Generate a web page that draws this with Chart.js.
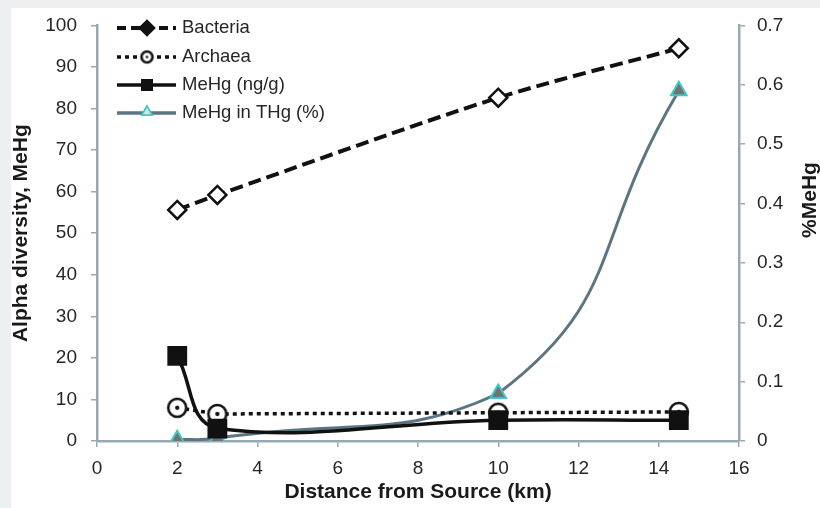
<!DOCTYPE html>
<html>
<head>
<meta charset="utf-8">
<script src="https://cdn.jsdelivr.net/npm/chart.js@4.4.1/dist/chart.umd.min.js"></script>
<style>
  html, body { margin: 0; padding: 0; background: #eeeff1; }
  #wrap { width: 820px; height: 508px; }
</style>
</head>
<body>
<div id="wrap"><canvas id="chart" width="820" height="508"></canvas></div>
<script>
// distances (km) where the samples were taken
const distances = [2, 3, 10, 14.5];
const bacteria = [55.6, 59.2, 82.6, 94.5];
const archaea = [8, 6.5, 6.8, 7];
const mehg = [20.5, 3, 5, 5];
const mehgInThg = [0.002, 0.005, 0.08, 0.59];

const seriesNames = ["Bacteria", "Archaea", "MeHg (ng/g)", "MeHg in THg (%)"];

const axisColor = "#97a9b3";
const textColor = "#262626";
const thgLine = "#5b7582";
const thgFill = "#727272";
const thgEdge = "#3cc8c8";

function toPoints(ys) {
    return distances.map((d, i) => ({ x: d, y: ys[i] }));
}

// open circle with a dot in the middle (Archaea marker)
function dotCircle(r) {
    const c = document.createElement("canvas");
    const s = Math.ceil(r * 2 + 6);
    c.width = s; c.height = s;
    const g = c.getContext("2d");
    g.beginPath();
    g.arc(s / 2, s / 2, r, 0, Math.PI * 2);
    g.fillStyle = "#ffffff";
    g.fill();
    g.lineWidth = 2.6;
    g.strokeStyle = "#111111";
    g.stroke();
    g.beginPath();
    g.arc(s / 2, s / 2, r * 0.24, 0, Math.PI * 2);
    g.fillStyle = "#111111";
    g.fill();
    return c;
}
const archaeaMarker = dotCircle(9);
const archaeaLegendMarker = dotCircle(5.5);

const frame = {
    id: "frame",
    beforeDraw(chart) {
        const ctx = chart.ctx;
        ctx.save();
        ctx.fillStyle = "#eeeff1";
        ctx.fillRect(0, 0, chart.width, chart.height);
        ctx.fillStyle = "#ffffff";
        ctx.fillRect(11, 8, chart.width - 11, chart.height - 8);
        ctx.restore();
    }
};

// legend with line samples, drawn inside the plot area
const sampleLegend = {
    id: "sampleLegend",
    afterDraw(chart) {
        const ctx = chart.ctx;
        const x0 = 117, x1 = 176, xm = 147, tx = 182;
        const rows = [28, 57, 85, 113];
        ctx.save();
        ctx.font = "18.5px 'Liberation Sans', Arial, sans-serif";
        ctx.textBaseline = "middle";
        rows.forEach((y, i) => {
            ctx.beginPath();
            ctx.setLineDash([]);
            if (i === 0) { ctx.setLineDash([9, 5]); ctx.lineWidth = 4; ctx.strokeStyle = "#111"; }
            if (i === 1) { ctx.setLineDash([4, 4]); ctx.lineWidth = 3.5; ctx.strokeStyle = "#111"; }
            if (i === 2) { ctx.lineWidth = 3.5; ctx.strokeStyle = "#111"; }
            if (i === 3) { ctx.lineWidth = 3.5; ctx.strokeStyle = thgLine; }
            ctx.moveTo(x0, y);
            ctx.lineTo(x1, y);
            ctx.stroke();
            ctx.setLineDash([]);
            if (i === 0) {
                Chart.helpers.drawPoint(ctx, { pointStyle: "rectRot", radius: 6, borderWidth: 2 }, xm, y);
                ctx.fillStyle = "#111"; ctx.fill();
            }
            if (i === 1) ctx.drawImage(archaeaLegendMarker, xm - archaeaLegendMarker.width / 2, y - archaeaLegendMarker.height / 2);
            if (i === 2) { ctx.fillStyle = "#111"; ctx.fillRect(xm - 6, y - 6, 12, 12); }
            if (i === 3) {
                ctx.fillStyle = "#dddddd"; ctx.strokeStyle = thgEdge; ctx.lineWidth = 1.5;
                Chart.helpers.drawPoint(ctx, { pointStyle: "triangle", radius: 6, borderWidth: 1.5 }, xm, y - 1);
                ctx.fill(); ctx.stroke();
            }
            ctx.fillStyle = textColor;
            ctx.fillText(seriesNames[i], tx, y);
        });
        // right axis title
        ctx.translate(810, 200);
        ctx.rotate(-Math.PI / 2);
        ctx.textAlign = "center";
        ctx.font = "bold 21px 'Liberation Sans', Arial, sans-serif";
        ctx.fillStyle = "#1a1a1a";
        ctx.fillText("%MeHg", 0, 0);
        ctx.restore();
    }
};

const tickFont = { family: "'Liberation Sans', Arial, sans-serif", size: 19 };
const titleFont = { family: "'Liberation Sans', Arial, sans-serif", size: 21, weight: "bold" };

new Chart(document.getElementById("chart"), {
    type: "line",
    data: {
        datasets: [
            {
                label: seriesNames[2],
                data: toPoints(mehg),
                yAxisID: "y",
                order: 0,
                borderColor: "#111111",
                borderWidth: 3.5,
                tension: 0.4,
                pointStyle: "rect",
                pointRadius: 14,
                pointBackgroundColor: "#111111",
                pointBorderColor: "#111111",
                pointBorderWidth: 0
            },
            {
                label: seriesNames[1],
                data: toPoints(archaea),
                yAxisID: "y",
                order: 1,
                borderColor: "#111111",
                borderWidth: 3.5,
                borderDash: [4, 4],
                tension: 0,
                pointStyle: archaeaMarker
            },
            {
                label: seriesNames[3],
                data: toPoints(mehgInThg),
                yAxisID: "y2",
                order: 2,
                borderColor: thgLine,
                borderWidth: 3,
                tension: 0.5,
                pointStyle: "triangle",
                pointRadius: 9,
                pointBackgroundColor: thgFill,
                pointBorderColor: thgEdge,
                pointBorderWidth: 2
            },
            {
                label: seriesNames[0],
                data: toPoints(bacteria),
                yAxisID: "y",
                order: 3,
                borderColor: "#111111",
                borderWidth: 4,
                borderDash: [13, 6],
                tension: 0.3,
                pointStyle: "rectRot",
                pointRadius: 9,
                pointBackgroundColor: "#ffffff",
                pointBorderColor: "#111111",
                pointBorderWidth: 2.5
            }
        ]
    },
    options: {
        responsive: false,
        animation: false,
        layout: { padding: { top: 22, left: 0, right: 0, bottom: 0 } },
        plugins: {
            legend: { display: false },
            tooltip: { enabled: false }
        },
        scales: {
            x: {
                type: "linear",
                min: 0,
                max: 16,
                ticks: { stepSize: 2, color: textColor, font: tickFont, padding: 10 },
                grid: { drawOnChartArea: false, color: axisColor, tickLength: 6, lineWidth: 1.5 },
                border: { color: axisColor, width: 2.5 },
                title: { display: true, text: "Distance from Source (km)", color: "#1a1a1a", font: titleFont, padding: { top: 0, bottom: 3 } },
                afterFit(scale) { scale.height = 67; }
            },
            y: {
                position: "left",
                min: 0,
                max: 100,
                ticks: { stepSize: 10, color: textColor, font: tickFont, padding: 14 },
                grid: { drawOnChartArea: false, color: axisColor, tickLength: 6, lineWidth: 1.5 },
                border: { color: axisColor, width: 2.5 },
                title: { display: true, text: "Alpha diversity, MeHg", color: "#1a1a1a", font: titleFont, padding: { top: 9, bottom: 0 } },
                afterFit(scale) { scale.width = 97; }
            },
            y2: {
                position: "right",
                min: 0,
                max: 0.7,
                ticks: { stepSize: 0.1, color: textColor, font: tickFont, padding: 12 },
                grid: { drawOnChartArea: false, color: axisColor, tickLength: 6, lineWidth: 1.5 },
                border: { color: axisColor, width: 2.5 },
                afterFit(scale) { scale.width = 81; }
            }
        }
    },
    plugins: [frame, sampleLegend]
});
</script>
</body>
</html>
